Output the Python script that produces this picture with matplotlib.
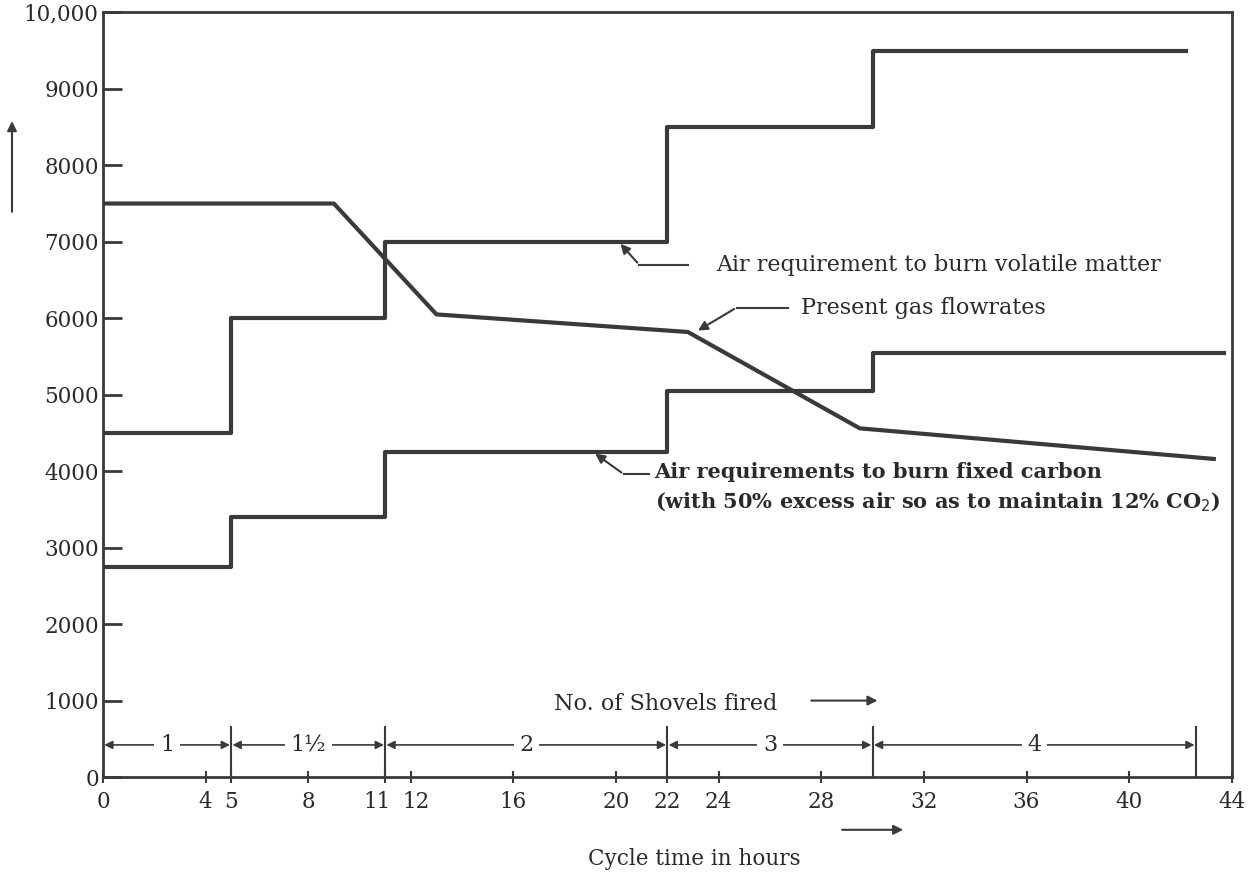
import matplotlib.pyplot as plt
from matplotlib.patches import FancyArrowPatch
from matplotlib.transforms import ScaledTranslation

# Данные
hours_vol = [0, 5, 11, 22, 30, 42.2]
air_volatile = [4500, 6000, 7000, 8500, 9500, 9500]

hours_fixed = [0, 5, 11, 22, 30, 43.7]
air_fixed = [2750, 3400, 4250, 5050, 5550, 5550]

hours_gas = [0, 9, 13, 22.8, 29.5, 43.3]
gas_flow = [7500, 7500, 6050, 5820, 4560, 4160]

# Число лопат угля за цикл
shovel_edges = [0, 5, 11, 22, 30, 42.6]
shovel_labels = ['1', '1½', '2', '3', '4']

x_ticks = [0, 4, 5, 8, 11, 12, 16, 20, 22, 24, 28, 32, 36, 40, 44]
y_ticks = list(range(0, 10001, 1000))
y_labels = [str(v) for v in y_ticks[:-1]] + ['10,000']

ink = '#3a3a3a'
txt = '#2a2a2a'
plt.rcParams['font.family'] = ['DejaVu Serif']

fig = plt.figure(figsize=(12.48, 8.83), dpi=100)
ax = fig.add_axes([0.0825, 0.12, 0.9045, 0.866])

ax.step(hours_vol, air_volatile, where='post', color=ink, lw=3)
ax.step(hours_fixed, air_fixed, where='post', color=ink, lw=3)
ax.plot(hours_gas, gas_flow, color=ink, lw=3)

ax.set_xlim(0, 44)
ax.set_ylim(0, 10000)
ax.set_xticks(x_ticks)
ax.set_xticklabels([str(t) for t in x_ticks])
ax.set_yticks(y_ticks)
ax.set_yticklabels(y_labels)
ax.tick_params(axis='y', direction='in', length=14, width=2, color=ink,
               labelsize=15.5, labelcolor=txt, pad=3)
ax.tick_params(axis='x', direction='inout', length=8, width=1.5, color=ink,
               labelsize=15.5, labelcolor=txt, pad=6)
for s in ax.spines.values():
    s.set_color(ink)
    s.set_linewidth(2)

# раздвинуть подписи 11 и 12
for lab in ax.get_xticklabels():
    if lab.get_text() == '11':
        lab.set_transform(lab.get_transform() + ScaledTranslation(-6 / 72, 0, fig.dpi_scale_trans))
    elif lab.get_text() == '12':
        lab.set_transform(lab.get_transform() + ScaledTranslation(4 / 72, 0, fig.dpi_scale_trans))

arrow = dict(arrowstyle='-|>', color=ink, lw=1.5, mutation_scale=14)

# Подписи кривых
ax.annotate('', xy=(20.1, 7000), xytext=(20.9, 6700), arrowprops=arrow)
ax.plot([20.9, 22.8], [6700, 6700], color=ink, lw=1.5)
ax.text(23.9, 6700, 'Air requirement to burn volatile matter', fontsize=16,
        color=txt, va='center')

ax.annotate('', xy=(23.1, 5820), xytext=(24.7, 6140), arrowprops=arrow)
ax.plot([24.7, 26.7], [6140, 6140], color=ink, lw=1.5)
ax.text(27.2, 6140, 'Present gas flowrates', fontsize=16, color=txt, va='center')

ax.annotate('', xy=(19.1, 4250), xytext=(20.3, 3960), arrowprops=arrow)
ax.plot([20.3, 21.3], [3960, 3960], color=ink, lw=1.5)
ax.text(21.5, 3990, 'Air requirements to burn fixed carbon', fontsize=15,
        fontweight='bold', color=txt, va='center')
ax.text(21.5, 3590, '(with 50% excess air so as to maintain 12% CO$_2$)', fontsize=15,
        fontweight='bold', color=txt, va='center')

# Число лопат
ax.text(17.6, 950, 'No. of Shovels fired', fontsize=16, color=txt, va='center')
ax.annotate('', xy=(30.3, 1000), xytext=(27.5, 1000), arrowprops=arrow)

for a, b, lab in zip(shovel_edges[:-1], shovel_edges[1:], shovel_labels):
    ax.annotate('', xy=(b - 0.05, 420), xytext=(a + 0.05, 420),
                arrowprops=dict(arrowstyle='<|-|>', color=ink, lw=1.2,
                                mutation_scale=12, shrinkA=0, shrinkB=0))
    ax.text((a + b) / 2, 420, lab, fontsize=16, color=txt, ha='center',
            va='center', bbox=dict(facecolor='white', edgecolor='none', pad=4))
for e in shovel_edges[1:]:
    ax.plot([e, e], [0, 650], color=ink, lw=1.5)

ax.annotate('', xy=(31.3, -690), xytext=(28.7, -690), annotation_clip=False,
            arrowprops=arrow)
fig.text(0.556, 0.015, 'Cycle time in hours', fontsize=15.5, color=txt,
         ha='center', va='bottom')

# Стрелка оси Y
fig.patches.append(FancyArrowPatch((0.0096, 0.757), (0.0096, 0.866),
                                   transform=fig.transFigure, **arrow))

fig.savefig('out.png', dpi=100)
